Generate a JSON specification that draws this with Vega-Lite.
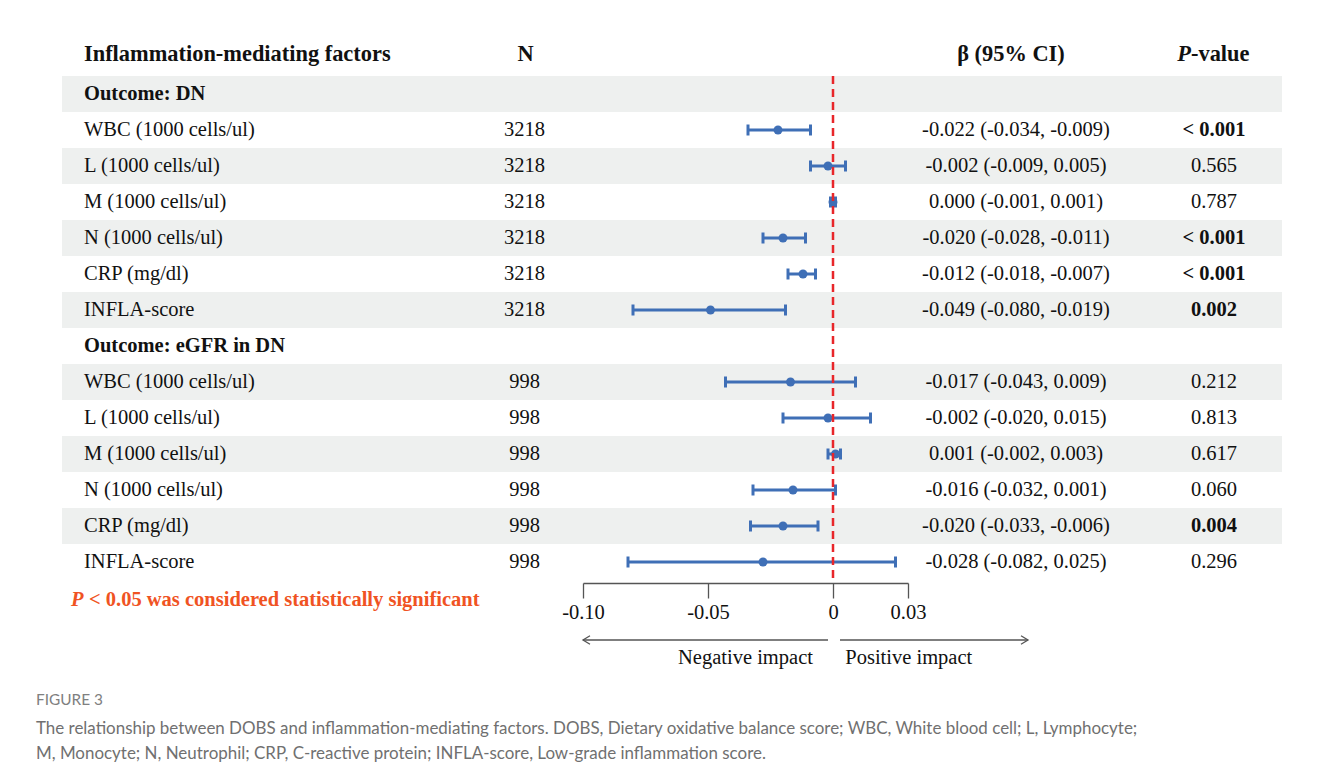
{
  "$schema": "https://vega.github.io/schema/vega-lite/v6.json",
  "background": "white",
  "padding": {"left": 36, "top": 40, "right": 0, "bottom": 0},
  "config": {
    "view": {"stroke": null},
    "text": {"font": "Liberation Serif", "fontSize": 20.5, "color": "#111111"},
    "axis": {"domainColor": "#555555", "domainWidth": 1.3, "tickColor": "#555555", "tickWidth": 1.3, "tickSize": 15, "labelFont": "Liberation Serif", "labelFontSize": 20.5, "labelColor": "#111111", "labelPadding": 4, "grid": false, "labelFlush": false, "labelOverlap": false, "labelBound": false}
  },
  "title": {
    "text": "FIGURE 3",
    "subtitle": ["The relationship between DOBS and inflammation-mediating factors. DOBS, Dietary oxidative balance score; WBC, White blood cell; L, Lymphocyte;", "M, Monocyte; N, Neutrophil; CRP, C-reactive protein; INFLA-score, Low-grade inflammation score."],
    "orient": "bottom", "anchor": "start", "dx": -26, "offset": 18,
    "font": "Lato", "fontSize": 15.4, "fontWeight": "normal", "color": "#808080",
    "subtitleFont": "Lato", "subtitleFontSize": 16.95, "subtitleColor": "#707070", "subtitleLineHeight": 25, "subtitlePadding": 13
  },
  "datasets": {
    "rows": [
      {"row": 0, "kind": "header", "label": "Inflammation-mediating factors", "n": "N", "ci": "β (95% CI)", "prefix": "P", "p": "-value", "band": false},
      {"row": 1, "kind": "group", "label": "Outcome: DN", "band": true},
      {"row": 2, "kind": "item", "label": "WBC (1000 cells/ul)", "n": "3218", "beta": -0.022, "lo": -0.034, "hi": -0.009, "ci": "-0.022 (-0.034, -0.009)", "p": "< 0.001", "sig": true, "band": false},
      {"row": 3, "kind": "item", "label": "L (1000 cells/ul)", "n": "3218", "beta": -0.002, "lo": -0.009, "hi": 0.005, "ci": "-0.002 (-0.009, 0.005)", "p": "0.565", "sig": false, "band": true},
      {"row": 4, "kind": "item", "label": "M (1000 cells/ul)", "n": "3218", "beta": 0.0, "lo": -0.001, "hi": 0.001, "ci": "0.000 (-0.001, 0.001)", "p": "0.787", "sig": false, "band": false},
      {"row": 5, "kind": "item", "label": "N (1000 cells/ul)", "n": "3218", "beta": -0.02, "lo": -0.028, "hi": -0.011, "ci": "-0.020 (-0.028, -0.011)", "p": "< 0.001", "sig": true, "band": true},
      {"row": 6, "kind": "item", "label": "CRP (mg/dl)", "n": "3218", "beta": -0.012, "lo": -0.018, "hi": -0.007, "ci": "-0.012 (-0.018, -0.007)", "p": "< 0.001", "sig": true, "band": false},
      {"row": 7, "kind": "item", "label": "INFLA-score", "n": "3218", "beta": -0.049, "lo": -0.08, "hi": -0.019, "ci": "-0.049 (-0.080, -0.019)", "p": "0.002", "sig": true, "band": true},
      {"row": 8, "kind": "group", "label": "Outcome: eGFR in DN", "band": false},
      {"row": 9, "kind": "item", "label": "WBC (1000 cells/ul)", "n": "998", "beta": -0.017, "lo": -0.043, "hi": 0.009, "ci": "-0.017 (-0.043, 0.009)", "p": "0.212", "sig": false, "band": true},
      {"row": 10, "kind": "item", "label": "L (1000 cells/ul)", "n": "998", "beta": -0.002, "lo": -0.02, "hi": 0.015, "ci": "-0.002 (-0.020, 0.015)", "p": "0.813", "sig": false, "band": false},
      {"row": 11, "kind": "item", "label": "M (1000 cells/ul)", "n": "998", "beta": 0.001, "lo": -0.002, "hi": 0.003, "ci": "0.001 (-0.002, 0.003)", "p": "0.617", "sig": false, "band": true},
      {"row": 12, "kind": "item", "label": "N (1000 cells/ul)", "n": "998", "beta": -0.016, "lo": -0.032, "hi": 0.001, "ci": "-0.016 (-0.032, 0.001)", "p": "0.060", "sig": false, "band": false},
      {"row": 13, "kind": "item", "label": "CRP (mg/dl)", "n": "998", "beta": -0.02, "lo": -0.033, "hi": -0.006, "ci": "-0.020 (-0.033, -0.006)", "p": "0.004", "sig": true, "band": true},
      {"row": 14, "kind": "item", "label": "INFLA-score", "n": "998", "beta": -0.028, "lo": -0.082, "hi": 0.025, "ci": "-0.028 (-0.082, 0.025)", "p": "0.296", "sig": false, "band": false},
      {"row": 15, "kind": "note", "prefix": "P", "label": "< 0.05 was considered statistically significant", "band": false}
    ],
    "arrows": [
      {"part": "arrow", "dir": "left", "from": -0.1, "to": -0.002, "head": -0.1},
      {"part": "arrow", "dir": "right", "from": 0.0028, "to": 0.078, "head": 0.078}
    ],
    "impact": [
      {"part": "label", "text": "Negative impact", "pos": -0.035},
      {"part": "label", "text": "Positive impact", "pos": 0.0303}
    ]
  },
  "spacing": 0,
  "vconcat": [
    {
      "bounds": "flush",
      "spacing": 0,
      "hconcat": [
        {
          "width": 408, "height": 576,
          "data": {"name": "rows"},
          "encoding": {"y": {"field": "row", "type": "ordinal", "scale": {"domain": [0,1,2,3,4,5,6,7,8,9,10,11,12,13,14,15], "paddingInner": 0, "paddingOuter": 0}, "axis": null}},
          "layer": [
            {"transform": [{"filter": "datum.band"}], "mark": {"type": "rect", "color": "#eef0ef"}, "encoding": {"x": {"value": 0}, "x2": {"value": "width"}}},
            {"transform": [{"filter": "datum.kind == 'item'"}], "mark": {"type": "text", "align": "left", "dx": 22}, "encoding": {"x": {"value": 0}, "text": {"field": "label"}}},
            {"transform": [{"filter": "datum.kind == 'group'"}], "mark": {"type": "text", "align": "left", "dx": 22, "fontWeight": "bold"}, "encoding": {"x": {"value": 0}, "text": {"field": "label"}}},
            {"transform": [{"filter": "datum.kind == 'header'"}], "mark": {"type": "text", "align": "left", "dx": 22, "dy": -4, "fontWeight": "bold", "fontSize": 22.4}, "encoding": {"x": {"value": 0}, "text": {"field": "label"}}},
            {"transform": [{"filter": "datum.kind == 'note'"}], "mark": {"type": "text", "align": "left", "dx": 9, "dy": 2, "fontWeight": "bold", "fontStyle": "italic", "color": "#f05323"}, "encoding": {"x": {"value": 0}, "text": {"field": "prefix"}}},
            {"transform": [{"filter": "datum.kind == 'note'"}], "mark": {"type": "text", "align": "left", "dx": 27, "dy": 2, "fontWeight": "bold", "color": "#f05323"}, "encoding": {"x": {"value": 0}, "text": {"field": "label"}}}
          ]
        },
        {
          "width": 113, "height": 540,
          "data": {"name": "rows"},
          "encoding": {"y": {"field": "row", "type": "ordinal", "scale": {"domain": [0,1,2,3,4,5,6,7,8,9,10,11,12,13,14], "paddingInner": 0, "paddingOuter": 0}, "axis": null}},
          "layer": [
            {"transform": [{"filter": "datum.band"}], "mark": {"type": "rect", "color": "#eef0ef"}, "encoding": {"x": {"value": 0}, "x2": {"value": "width"}}},
            {"transform": [{"filter": "datum.kind == 'item'"}], "mark": {"type": "text", "dx": -2}, "encoding": {"text": {"field": "n"}}},
            {"transform": [{"filter": "datum.kind == 'header'"}], "mark": {"type": "text", "dx": -1, "dy": -4, "fontWeight": "bold", "fontSize": 22.4}, "encoding": {"text": {"field": "n"}}}
          ]
        },
        {
          "width": 325, "height": 540,
          "data": {"name": "rows"},
          "encoding": {"y": {"field": "row", "type": "ordinal", "scale": {"domain": [0,1,2,3,4,5,6,7,8,9,10,11,12,13,14], "paddingInner": 0, "paddingOuter": 0}, "axis": null}},
          "layer": [
            {"transform": [{"filter": "datum.band"}], "mark": {"type": "rect", "color": "#eef0ef"}, "encoding": {"x": {"value": 0}, "x2": {"value": "width"}}},
            {"transform": [{"filter": "datum.kind == 'item'"}], "mark": {"type": "rule", "color": "#3f6fb6", "strokeWidth": 3},
             "encoding": {"x": {"field": "lo", "type": "quantitative", "scale": {"domain": [-0.1, 0.03], "nice": false, "zero": false}, "title": null, "axis": {"values": [-0.1, -0.05, 0, 0.03], "offset": 3, "labelExpr": "datum.value == 0 ? '0' : (datum.value < 0 ? '-' + format(-datum.value, '.2f') : format(datum.value, '.2f'))"}}, "x2": {"field": "hi"}}},
            {"transform": [{"filter": "datum.kind == 'item'"}], "mark": {"type": "tick", "color": "#3f6fb6", "thickness": 3, "size": 11, "opacity": 1},
             "encoding": {"x": {"field": "lo", "type": "quantitative", "title": null}}},
            {"transform": [{"filter": "datum.kind == 'item'"}], "mark": {"type": "tick", "color": "#3f6fb6", "thickness": 3, "size": 11, "opacity": 1},
             "encoding": {"x": {"field": "hi", "type": "quantitative", "title": null}}},
            {"transform": [{"filter": "datum.kind == 'item'"}], "mark": {"type": "point", "filled": true, "color": "#3f6fb6", "size": 80, "opacity": 1},
             "encoding": {"x": {"field": "beta", "type": "quantitative", "title": null}}},
            {"data": {"values": [{"ref": 0}]}, "mark": {"type": "rule", "color": "#e8262a", "strokeWidth": 2.5, "strokeDash": [8, 5]},
             "encoding": {"x": {"field": "ref", "type": "quantitative", "title": null}, "y": {"datum": 1, "type": "ordinal", "bandPosition": 0}, "y2": {"value": "height"}}}
          ]
        },
        {
          "width": 216, "height": 540,
          "data": {"name": "rows"},
          "encoding": {"y": {"field": "row", "type": "ordinal", "scale": {"domain": [0,1,2,3,4,5,6,7,8,9,10,11,12,13,14], "paddingInner": 0, "paddingOuter": 0}, "axis": null}},
          "layer": [
            {"transform": [{"filter": "datum.band"}], "mark": {"type": "rect", "color": "#eef0ef"}, "encoding": {"x": {"value": 0}, "x2": {"value": "width"}}},
            {"transform": [{"filter": "datum.kind == 'item'"}], "mark": {"type": "text"}, "encoding": {"text": {"field": "ci"}}},
            {"transform": [{"filter": "datum.kind == 'header'"}], "mark": {"type": "text", "dx": -5, "dy": -4, "fontWeight": "bold", "fontSize": 22.4}, "encoding": {"text": {"field": "ci"}}}
          ]
        },
        {
          "width": 158, "height": 540,
          "data": {"name": "rows"},
          "encoding": {"y": {"field": "row", "type": "ordinal", "scale": {"domain": [0,1,2,3,4,5,6,7,8,9,10,11,12,13,14], "paddingInner": 0, "paddingOuter": 0}, "axis": null}},
          "layer": [
            {"transform": [{"filter": "datum.band"}], "mark": {"type": "rect", "color": "#eef0ef"}, "encoding": {"x": {"value": 0}, "x2": {"value": "width"}}},
            {"transform": [{"filter": "datum.kind == 'item' && !datum.sig"}], "mark": {"type": "text", "dx": 11}, "encoding": {"text": {"field": "p"}}},
            {"transform": [{"filter": "datum.kind == 'item' && datum.sig"}], "mark": {"type": "text", "dx": 11, "fontWeight": "bold"}, "encoding": {"text": {"field": "p"}}},
            {"transform": [{"filter": "datum.kind == 'header'"}], "mark": {"type": "text", "align": "right", "dx": -12, "dy": -4, "fontWeight": "bold", "fontStyle": "italic", "fontSize": 22.4}, "encoding": {"text": {"field": "prefix"}}},
            {"transform": [{"filter": "datum.kind == 'header'"}], "mark": {"type": "text", "align": "left", "dx": -12, "dy": -4, "fontWeight": "bold", "fontSize": 22.4}, "encoding": {"text": {"field": "p"}}}
          ]
        }
      ]
    },
    {
      "bounds": "flush",
      "spacing": 0,
      "hconcat": [
        {"width": 521, "height": 52, "data": {"values": []}, "mark": "text"},
        {
          "width": 325, "height": 52,
          "encoding": {"y": {"field": "part", "type": "nominal", "scale": {"domain": ["arrow", "label"], "paddingInner": 0, "paddingOuter": 0.444}, "axis": null}},
          "layer": [
            {"data": {"name": "arrows"}, "mark": {"type": "rule", "color": "#555555", "strokeWidth": 1.3},
             "encoding": {"x": {"field": "from", "type": "quantitative", "scale": {"domain": [-0.1, 0.03], "nice": false, "zero": false}, "axis": null}, "x2": {"field": "to"}}},
            {"data": {"name": "arrows"}, "transform": [{"filter": "datum.dir == 'left'"}], "mark": {"type": "point", "shape": "M1,-0.6L0,0L1,0.6", "size": 196, "filled": false, "color": "#555555", "strokeWidth": 1.3, "opacity": 1},
             "encoding": {"x": {"field": "head", "type": "quantitative", "axis": null}}},
            {"data": {"name": "arrows"}, "transform": [{"filter": "datum.dir == 'right'"}], "mark": {"type": "point", "shape": "M-1,-0.6L0,0L-1,0.6", "size": 196, "filled": false, "color": "#555555", "strokeWidth": 1.3, "opacity": 1},
             "encoding": {"x": {"field": "head", "type": "quantitative", "axis": null}}},
            {"data": {"name": "impact"}, "mark": {"type": "text"},
             "encoding": {"x": {"field": "pos", "type": "quantitative", "axis": null}, "text": {"field": "text"}}}
          ]
        }
      ]
    }
  ]
}
